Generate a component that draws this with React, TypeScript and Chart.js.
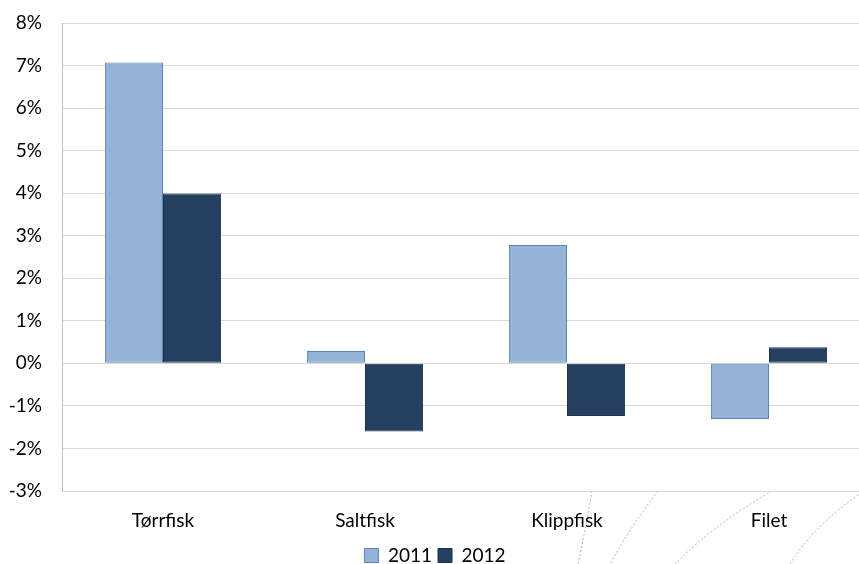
import React, { useEffect, useRef } from "react";
import { Chart, registerables } from "chart.js";

Chart.register(...registerables);

const categories = ["Tørrfisk", "Saltfisk", "Klippfisk", "Filet"];
const values2011 = [7.07, 0.29, 2.78, -1.31];
const values2012 = [3.99, -1.6, -1.24, 0.38];
const seriesLabels = ["2011", "2012"];
const yMin = -3;
const yMax = 8;

const FONT = "Lato, 'Liberation Sans', sans-serif";
const FS = 19;

const decoPlugin = {
  id: "deco",
  beforeDraw(chart: any) {
    const { ctx, chartArea } = chart;
    const b = chartArea.bottom;
    const h = 564 - b;
    ctx.save();
    ctx.beginPath();
    ctx.rect(0, b + 1, chart.width, chart.height - b);
    ctx.clip();
    ctx.strokeStyle = "rgba(120,150,185,0.7)";
    ctx.lineWidth = 1;
    ctx.setLineDash([2, 2]);
    const curves = [
      [592, 0, 586, 0.5, 578, 1.0],
      [658, 0, 630, 0.5, 610, 1.0],
      [772, 0, 715, 0.45, 675, 1.0],
      [862, 0.02, 815, 0.45, 790, 1.0],
    ];
    curves.forEach((c) => {
      ctx.beginPath();
      ctx.moveTo(c[0], b + c[1] * h);
      ctx.quadraticCurveTo(c[2], b + c[3] * h, c[4], b + c[5] * h);
      ctx.stroke();
    });
    ctx.restore();
  },
};

export default function App() {
  const ref = useRef<HTMLCanvasElement>(null);
  useEffect(() => {
    document.body.style.margin = "0";
    document.body.style.overflow = "hidden";
    const chart = new Chart(ref.current!, {
      type: "bar",
      data: {
        labels: categories,
        datasets: [
          {
            label: seriesLabels[0],
            data: values2011,
            backgroundColor: "#95b3d7",
            borderColor: "#5d84b8",
            borderWidth: 1,
            borderSkipped: false,
            barPercentage: 1,
            categoryPercentage: 0.575,
          },
          {
            label: seriesLabels[1],
            data: values2012,
            backgroundColor: "#254061",
            borderColor: "#1c3350",
            borderWidth: 1,
            borderSkipped: false,
            barPercentage: 1,
            categoryPercentage: 0.575,
          },
        ],
      },
      options: {
        responsive: false,
        animation: false,
        devicePixelRatio: 1,
        layout: { padding: { top: 23, left: 0, right: 0, bottom: 0 } },
        plugins: {
          tooltip: { enabled: false },
          legend: {
            position: "bottom",
            labels: {
              boxWidth: 14,
              boxHeight: 14,
              padding: 6,
              color: "#000",
              font: { family: FONT, size: FS },
            },
          },
        },
        scales: {
          x: {
            afterFit: (s: any) => {
              s.height = 49;
            },
            grid: { display: false, drawTicks: false },
            border: { display: false },
            ticks: { color: "#000", font: { family: FONT, size: FS }, padding: 18 },
          },
          y: {
            min: yMin,
            max: yMax,
            afterFit: (s: any) => {
              s.width = 62;
              s.paddingTop = 10;
              s.paddingBottom = 10;
            },
            grid: { color: "#d9d9d9", drawTicks: false, lineWidth: 1 },
            border: { display: true, color: "#bfbfbf" },
            ticks: {
              stepSize: 1,
              color: "#000",
              padding: 20,
              font: { family: FONT, size: FS },
              callback: (v: any) => v + "%",
            },
          },
        },
      },
      plugins: [decoPlugin],
    });
    return () => chart.destroy();
  }, []);
  return (
    <div style={{ position: "absolute", left: 0, top: 0, width: 859, height: 564, overflow: "hidden", background: "#fff" }}>
      <canvas ref={ref} width={870} height={575} style={{ display: "block" }} />
    </div>
  );
}
